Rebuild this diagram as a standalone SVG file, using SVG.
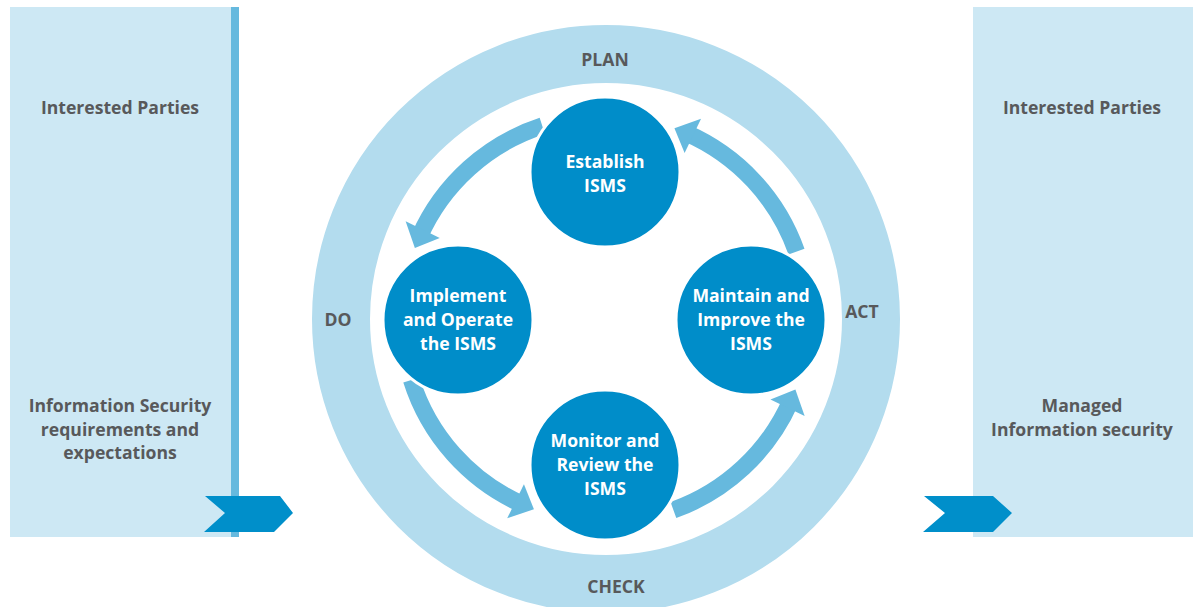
<svg xmlns="http://www.w3.org/2000/svg" width="1193" height="607" viewBox="0 0 1193 607">
<style>
.panel{fill:#cde8f4}
.chev{fill:#008fca}
.node circle{fill:#008dc9;stroke:#ffffff;stroke-width:3}
.lbl{font-family:"Open Sans","Noto Sans",sans-serif;font-weight:bold;font-size:17.6px;fill:#58595b;text-anchor:middle}
.wt{font-family:"Open Sans","Noto Sans",sans-serif;font-weight:bold;font-size:17.6px;fill:#ffffff;text-anchor:middle}
.band{fill:none;stroke:#66b9de;stroke-width:17}
.head{fill:#66b9de}
</style>
<rect width="1193" height="607" fill="#ffffff"/>
<g id="left-panel">
<rect class="panel" x="10" y="7" width="221" height="530"/>
<rect x="231" y="7" width="8" height="530" fill="#66b9de"/>
<text class="lbl" x="120" y="114">Interested Parties</text>
<text class="lbl" x="120" y="412">Information Security</text>
<text class="lbl" x="120" y="436">requirements and</text>
<text class="lbl" x="120" y="459">expectations</text>
<polygon class="chev" points="205,496 280,496 293,513 274,532 204,532 225,513"/>
</g>
<g id="right-panel">
<rect class="panel" x="973" y="7" width="220" height="530"/>
<text class="lbl" x="1082" y="114">Interested Parties</text>
<text class="lbl" x="1082" y="412">Managed</text>
<text class="lbl" x="1082" y="436">Information security</text>
<polygon class="chev" points="924,496 993,496 1012,513 993,532 923,532 945,513"/>
</g>
<g id="ring">
<circle cx="606" cy="319" r="265" fill="none" stroke="#b3dcee" stroke-width="58"/>
<text class="lbl" x="605" y="66">PLAN</text>
<text class="lbl" x="338" y="326">DO</text>
<text class="lbl" x="862" y="318">ACT</text>
<text class="lbl" x="616" y="593">CHECK</text>
</g>
<g id="connectors">
<path class="band" d="M542.27 125.94 A203 203 0 0 0 419.55 236.43"/>
<polygon class="head" points="405.64,221.33 414.86,247.91 439.76,238.05"/>
<path class="band" d="M411.40 380.04 A203 203 0 0 0 522.43 504.45"/>
<polygon class="head" points="507.20,518.30 533.91,509.14 523.94,484.18"/>
<path class="band" d="M673.43 510.12 A203 203 0 0 0 790.74 400.92"/>
<polygon class="head" points="804.64,416.10 795.39,389.43 770.46,399.48"/>
<path class="band" d="M796.47 251.57 A203 203 0 0 0 685.95 132.84"/>
<polygon class="head" points="701.06,118.86 674.43,128.24 684.62,153.12"/>
</g>
<g id="establish" class="node">
<circle cx="605" cy="172" r="75"/>
<text class="wt" x="605" y="168">Establish</text>
<text class="wt" x="605" y="192">ISMS</text>
</g>
<g id="implement" class="node">
<circle cx="458" cy="320" r="75"/>
<text class="wt" x="458" y="302">Implement</text>
<text class="wt" x="458" y="326">and Operate</text>
<text class="wt" x="458" y="350">the ISMS</text>
</g>
<g id="maintain" class="node">
<circle cx="751" cy="320" r="75"/>
<text class="wt" x="751" y="302">Maintain and</text>
<text class="wt" x="751" y="326">Improve the</text>
<text class="wt" x="751" y="350">ISMS</text>
</g>
<g id="monitor" class="node">
<circle cx="605" cy="465" r="75"/>
<text class="wt" x="605" y="447">Monitor and</text>
<text class="wt" x="605" y="471">Review the</text>
<text class="wt" x="605" y="495">ISMS</text>
</g>
</svg>
